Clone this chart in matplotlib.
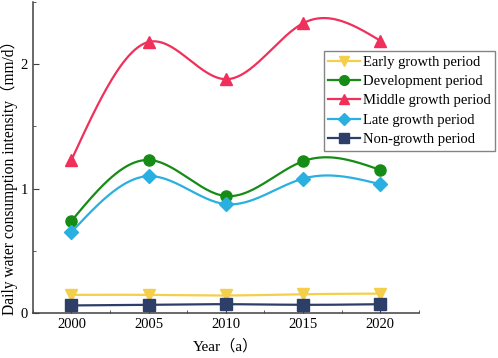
import numpy as np
import matplotlib
matplotlib.use("Agg")
import matplotlib.pyplot as plt
from matplotlib.ticker import MultipleLocator

plt.rcParams['font.family'] = ['Liberation Serif', 'Noto Sans CJK SC']

years = [2000, 2005, 2010, 2015, 2020]
early = [0.145, 0.145, 0.14, 0.15, 0.155]
development = [0.74, 1.23, 0.94, 1.22, 1.15]
middle = [1.23, 2.18, 1.88, 2.33, 2.19]
late = [0.65, 1.10, 0.875, 1.08, 1.035]
non_growth = [0.06, 0.065, 0.07, 0.065, 0.07]

series = [
    ("Early growth period", early, "#F3CF4B", "v"),
    ("Development period", development, "#168C16", "o"),
    ("Middle growth period", middle, "#F0305A", "^"),
    ("Late growth period", late, "#2AB0E0", "D"),
    ("Non-growth period", non_growth, "#2D3E68", "s"),
]


def spline(x, y, n=200):
    # natural cubic spline, only used to draw the smooth line
    x = np.asarray(x, float)
    y = np.asarray(y, float)
    k = len(x)
    h = np.diff(x)
    A = np.zeros((k, k))
    b = np.zeros(k)
    A[0, 0] = A[-1, -1] = 1
    for i in range(1, k - 1):
        A[i, i - 1] = h[i - 1]
        A[i, i] = 2 * (h[i - 1] + h[i])
        A[i, i + 1] = h[i]
        b[i] = 6 * ((y[i + 1] - y[i]) / h[i] - (y[i] - y[i - 1]) / h[i - 1])
    m = np.linalg.solve(A, b)
    xs = np.linspace(x[0], x[-1], n)
    idx = np.clip(np.searchsorted(x, xs) - 1, 0, k - 2)
    x0, x1 = x[idx], x[idx + 1]
    hh = x1 - x0
    t0, t1 = x1 - xs, xs - x0
    ys = (m[idx] * t0 ** 3 + m[idx + 1] * t1 ** 3) / (6 * hh) \
        + (y[idx] / hh - m[idx] * hh / 6) * t0 \
        + (y[idx + 1] / hh - m[idx + 1] * hh / 6) * t1
    return xs, ys


fig = plt.figure(figsize=(4.98, 3.58), dpi=100)
ax = fig.add_axes([0.066, 0.126, 0.775, 0.868])

for name, vals, col, mk in series:
    ms = 7 if mk == 'D' else 8
    xs, ys = spline(years, vals)
    ax.plot(xs, ys, color=col, lw=1.6)
    ax.plot(years, vals, linestyle='none', marker=mk, color=col, markersize=ms)
    ax.plot([], [], color=col, lw=1.6, marker=mk, markersize=ms - 1, label=name)

ax.set_xlim(1997.5, 2022.5)
ax.set_ylim(0, 2.5)
ax.set_xticks(years)
ax.set_yticks([0, 1, 2])
ax.xaxis.set_minor_locator(MultipleLocator(2.5))
ax.yaxis.set_minor_locator(MultipleLocator(0.5))
ax.tick_params(which='both', direction='in', labelsize=10.5, color='#404040')
ax.tick_params(which='major', length=4)
ax.tick_params(which='minor', length=2.5)
ax.spines['top'].set_visible(False)
ax.spines['right'].set_visible(False)
for s in ('left', 'bottom'):
    ax.spines[s].set_color('#404040')
    ax.spines[s].set_linewidth(1.1)

ax.set_xlabel("Year（a）", fontsize=11, labelpad=6)
ax.set_ylabel("Daily water consumption intensity（mm/d）", fontsize=11.2)
ax.yaxis.set_label_coords(-0.039, 0.447)

leg = ax.legend(loc='upper left', bbox_to_anchor=(0.754, 0.842), fontsize=10.5,
                frameon=True, fancybox=False, edgecolor='#666666',
                handlelength=2.2, handletextpad=0.2, borderpad=0.3,
                labelspacing=0.42, borderaxespad=0)
leg.get_frame().set_linewidth(1.0)

fig.savefig("out.png", dpi=100)
